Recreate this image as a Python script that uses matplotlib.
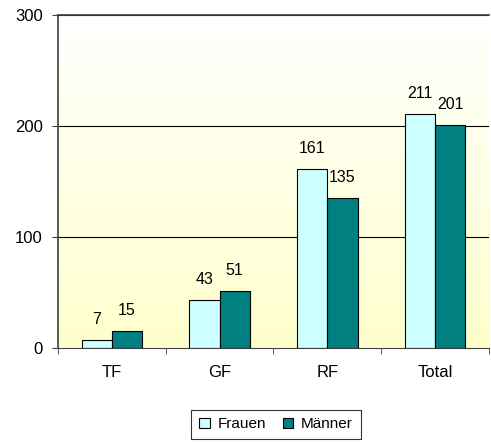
import numpy as np
from matplotlib import pyplot as plt
from matplotlib.colors import LinearSegmentedColormap

categories = ['TF', 'GF', 'RF', 'Total']
frauen = [7, 43, 161, 211]
maenner = [15, 51, 135, 201]
series_names = ['Frauen', 'Männer']

plt.rcParams['font.family'] = ['Liberation Sans', 'DejaVu Sans']
plt.rcParams['font.size'] = 11

fig = plt.figure(figsize=(4.91, 4.42), dpi=100)
ax = fig.add_axes([0.118, 0.2127, 0.878, 0.7534])

x = np.arange(len(categories))
width = 0.28

# background gradient: white at top -> pale yellow at bottom
cmap = LinearSegmentedColormap.from_list('bg', ['#FFFFCC', '#FFFFFF'])
grad = np.linspace(0, 1, 256).reshape(-1, 1)
ax.imshow(grad, aspect='auto', cmap=cmap, origin='lower',
          extent=[-0.5, len(categories) - 0.5, 0, 300], zorder=0)

for y in [100, 200, 300]:
    ax.axhline(y, color='black', lw=0.8, zorder=1)

b1 = ax.bar(x - width / 2, frauen, width, color='#CCFFFF', edgecolor='black',
            lw=0.8, label=series_names[0], zorder=2)
b2 = ax.bar(x + width / 2, maenner, width, color='#008080', edgecolor='black',
            lw=0.8, label=series_names[1], zorder=2)

for bars, vals in [(b1, frauen), (b2, maenner)]:
    for b, v in zip(bars, vals):
        ax.annotate(str(v), (b.get_x() + b.get_width() / 2, v),
                    xytext=(0, 11.5), textcoords='offset points',
                    ha='center', va='baseline', fontsize=11.5)

ax.set_xlim(-0.5, len(categories) - 0.5)
ax.set_ylim(0, 300)
ax.set_yticks([0, 100, 200, 300])
ax.set_xticks(x)
ax.set_xticklabels(categories)
ax.set_xticks(np.arange(len(categories) + 1) - 0.5, minor=True)
ax.tick_params(axis='x', which='major', length=0, pad=12, labelsize=12)
ax.tick_params(axis='x', which='minor', length=4, color='#404040', direction='out')
ax.tick_params(axis='y', length=4, color='#404040', direction='out', pad=7, labelsize=12)

ax.spines['right'].set_visible(False)
ax.spines['top'].set_color('#404040')
ax.spines['left'].set_color('#404040')
ax.spines['bottom'].set_color('#404040')
ax.spines['left'].set_linewidth(1.2)
ax.spines['top'].set_linewidth(1.2)

leg = fig.legend(handles=[b1, b2], loc='center', bbox_to_anchor=(0.562, 0.04),
                 ncol=2, frameon=True, fancybox=False, edgecolor='black',
                 handlelength=0.7, handleheight=0.7, handletextpad=0.5,
                 columnspacing=1.1, borderpad=0.5, fontsize=11)
leg.get_frame().set_linewidth(0.8)

fig.savefig('out.png', dpi=100)
